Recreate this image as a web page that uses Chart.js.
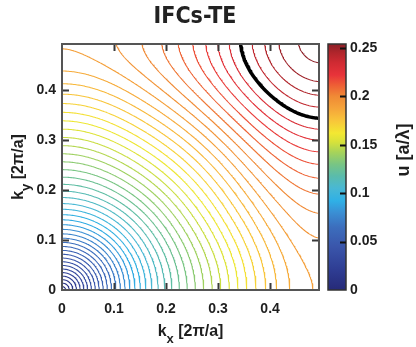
<!DOCTYPE html>
<html>
<head>
<meta charset="utf-8">
<script src="https://cdn.jsdelivr.net/npm/chart.js@4.4.1/dist/chart.umd.min.js"></script>
<style>
  html, body { margin: 0; padding: 0; background: #fff; }
  #wrap { width: 416px; height: 347px; }
</style>
</head>
<body>
<div id="wrap"><canvas id="ifc" width="416" height="347"></canvas></div>
<script>
// k grid nodes (units of 2pi/a), same on both axes
const kNodes = [0, 0.1, 0.2, 0.3, 0.4, 0.5];
// u [a/lambda] at the nodes: one row per ky, columns = kx
const uKy00 = [0.000, 0.068, 0.115, 0.150, 0.175, 0.192];
const uKy01 = [0.068, 0.090, 0.125, 0.158, 0.181, 0.195];
const uKy02 = [0.115, 0.125, 0.147, 0.173, 0.195, 0.207];
const uKy03 = [0.150, 0.158, 0.173, 0.196, 0.215, 0.226];
const uKy04 = [0.175, 0.181, 0.195, 0.215, 0.235, 0.247];
const uKy05 = [0.192, 0.195, 0.207, 0.226, 0.247, 0.258];
const uGrid = [uKy00, uKy01, uKy02, uKy03, uKy04, uKy05];

// iso-frequency levels drawn
const contourLevels = [
  0.005, 0.010, 0.015, 0.020, 0.025, 0.030, 0.035, 0.040, 0.045, 0.050,
  0.055, 0.060, 0.065, 0.070, 0.075, 0.080, 0.085, 0.090, 0.095, 0.100,
  0.105, 0.110, 0.115, 0.120, 0.125, 0.130, 0.135, 0.140, 0.145, 0.150,
  0.155, 0.160, 0.165, 0.170, 0.175, 0.180, 0.185, 0.190, 0.195, 0.200,
  0.205, 0.210, 0.215, 0.220, 0.225, 0.230, 0.235, 0.240, 0.245, 0.250, 0.255
];
const highlightLevel = 0.235;

const xTicks = [0, 0.1, 0.2, 0.3, 0.4];
const xTickLabels = ["0", "0.1", "0.2", "0.3", "0.4"];
const yTicks = [0, 0.1, 0.2, 0.3, 0.4];
const yTickLabels = ["0", "0.1", "0.2", "0.3", "0.4"];
const cbTicks = [0, 0.05, 0.1, 0.15, 0.2, 0.25];
const cbTickLabels = ["0", "0.05", "0.1", "0.15", "0.2", "0.25"];
const xMax = 0.494, yMax = 0.492, cbMax = 0.254;

// colour map (jet-like, as in the colour bar)
const cmap = [
  [0.000, "#262a78"], [0.020, "#2e3c92"], [0.045, "#3a56ab"], [0.065, "#3c6ebd"],
  [0.080, "#3a8fd4"], [0.092, "#2fb0e6"], [0.105, "#49b8d4"], [0.118, "#5bbcaa"],
  [0.130, "#79c583"], [0.142, "#a6d35a"], [0.153, "#d8e23a"], [0.162, "#f3e832"],
  [0.175, "#f8c53a"], [0.188, "#f5a33a"], [0.200, "#f08a35"], [0.212, "#ee5c35"],
  [0.222, "#e8333a"], [0.235, "#cf2a32"], [0.245, "#b0252b"], [0.255, "#8c1f27"]
];

function rgb(hex) {
  return [1, 3, 5].map(i => parseInt(hex.substr(i, 2), 16));
}
function colorAt(u) {
  if (u <= cmap[0][0]) return cmap[0][1];
  for (let i = 1; i < cmap.length; i++) {
    if (u <= cmap[i][0]) {
      const t = (u - cmap[i - 1][0]) / (cmap[i][0] - cmap[i - 1][0]);
      const a = rgb(cmap[i - 1][1]), b = rgb(cmap[i][1]);
      const c = a.map((v, k) => Math.round(v + (b[k] - v) * t));
      return "rgb(" + c.join(",") + ")";
    }
  }
  return cmap[cmap.length - 1][1];
}

// smooth band surface: least-squares cosine series for u^2 through the node table
// (even about zone centre and zone edge); the Gamma point is pinned with a big weight
const MODES = 4;
const basis = (kx, ky) => {
  const out = [];
  for (let n = 0; n < MODES; n++) {
    for (let m = 0; m < MODES; m++) out.push(Math.cos(2 * Math.PI * m * kx) * Math.cos(2 * Math.PI * n * ky));
  }
  return out;
};
function fitBand() {
  const P = MODES * MODES;
  const A = [];
  for (let r = 0; r < P; r++) A.push(new Array(P + 1).fill(0));
  uGrid.forEach((row, j) => row.forEach((u, i) => {
    const w = (i === 0 && j === 0) ? 200 : (i + j === 1 ? 4 : 1);
    const phi = basis(kNodes[i], kNodes[j]);
    for (let r = 0; r < P; r++) {
      for (let c = 0; c < P; c++) A[r][c] += w * phi[r] * phi[c];
      A[r][P] += w * phi[r] * u * u;
    }
  }));
  for (let c = 0; c < P; c++) {
    let piv = c;
    for (let r = c + 1; r < P; r++) if (Math.abs(A[r][c]) > Math.abs(A[piv][c])) piv = r;
    [A[c], A[piv]] = [A[piv], A[c]];
    for (let r = 0; r < P; r++) {
      if (r === c) continue;
      const f = A[r][c] / A[c][c];
      for (let k = c; k <= P; k++) A[r][k] -= f * A[c][k];
    }
  }
  return A.map((row, r) => row[P] / row[r]);
}
const coef = fitBand();
function field(kx, ky) {
  const phi = basis(kx, ky);
  let s = 0;
  for (let r = 0; r < phi.length; r++) s += coef[r] * phi[r];
  return Math.sqrt(Math.max(s, 0));
}

// marching squares + chaining into polylines
const N = 200, H = kNodes[kNodes.length - 1] / N;
const F = [];
for (let j = 0; j <= N; j++) {
  const row = [];
  for (let i = 0; i <= N; i++) row.push(field(i * H, j * H));
  F.push(row);
}

function contourLines(level) {
  const segs = [];
  for (let j = 0; j < N; j++) {
    for (let i = 0; i < N; i++) {
      const a = F[j][i], b = F[j][i + 1], c = F[j + 1][i + 1], d = F[j + 1][i];
      const x0 = i * H, y0 = j * H, e = [];
      if ((a > level) !== (b > level)) e.push({key: "h" + i + "_" + j, x: x0 + H * (level - a) / (b - a), y: y0});
      if ((b > level) !== (c > level)) e.push({key: "v" + (i + 1) + "_" + j, x: x0 + H, y: y0 + H * (level - b) / (c - b)});
      if ((d > level) !== (c > level)) e.push({key: "h" + i + "_" + (j + 1), x: x0 + H * (level - d) / (c - d), y: y0 + H});
      if ((a > level) !== (d > level)) e.push({key: "v" + i + "_" + j, x: x0, y: y0 + H * (level - a) / (d - a)});
      if (e.length === 2) segs.push([e[0], e[1]]);
      else if (e.length === 4) {
        segs.push([e[0], e[3]]);
        segs.push([e[1], e[2]]);
      }
    }
  }
  const byKey = new Map();
  segs.forEach((s, idx) => s.forEach(p => {
    if (!byKey.has(p.key)) byKey.set(p.key, []);
    byKey.get(p.key).push(idx);
  }));
  const used = segs.map(() => false);
  const extend = line => {
    for (;;) {
      const end = line[line.length - 1];
      const next = (byKey.get(end.key) || []).find(k => !used[k]);
      if (next === undefined) break;
      used[next] = true;
      const s = segs[next];
      line.push(s[0].key === end.key ? s[1] : s[0]);
    }
  };
  const lines = [];
  for (let s0 = 0; s0 < segs.length; s0++) {
    if (used[s0]) continue;
    used[s0] = true;
    const line = [segs[s0][0], segs[s0][1]];
    extend(line);
    line.reverse();
    extend(line);
    lines.push(line.map(p => ({x: p.x, y: p.y})));
  }
  return lines;
}

const lineStyle = {pointRadius: 0, showLine: true, fill: false, tension: 0,
  borderJoinStyle: "round", borderCapStyle: "round"};
const datasets = [];
contourLevels.forEach(level => {
  if (level === highlightLevel) return;
  contourLines(level).forEach(line => {
    datasets.push(Object.assign({data: line, borderColor: colorAt(level), borderWidth: 1.05}, lineStyle));
  });
});
contourLines(highlightLevel).forEach(line => {
  datasets.push(Object.assign({data: line, borderColor: "#000", borderWidth: 3.5}, lineStyle));
});

// frame, inward ticks, colour bar and axis titles
const decor = {
  id: "decor",
  afterDatasetsDraw(chart) {
    const ctx = chart.ctx;
    const a = chart.chartArea;
    const sx = chart.scales.x, sy = chart.scales.y, sc = chart.scales.cb;
    const tick = 7;
    ctx.save();
    ctx.strokeStyle = "#3a3a3a";
    ctx.lineWidth = 2;
    ctx.beginPath();
    xTicks.slice(1).forEach(v => {
      const px = Math.round(sx.getPixelForValue(v)) + 0.5;
      ctx.moveTo(px, a.bottom); ctx.lineTo(px, a.bottom - tick);
      ctx.moveTo(px, a.top); ctx.lineTo(px, a.top + tick);
    });
    yTicks.slice(1).forEach(v => {
      const py = Math.round(sy.getPixelForValue(v)) + 0.5;
      ctx.moveTo(a.left, py); ctx.lineTo(a.left + tick, py);
      ctx.moveTo(a.right, py); ctx.lineTo(a.right - tick, py);
    });
    ctx.stroke();
    ctx.strokeStyle = "#555";
    ctx.strokeRect(a.left, a.top, a.right - a.left, a.bottom - a.top);

    // colour bar
    const cbL = a.right + 9, cbR = a.right + 27;
    const y0 = sc.getPixelForValue(0), y1 = sc.getPixelForValue(cbMax);
    const g = ctx.createLinearGradient(0, y0, 0, y1);
    cmap.forEach(s => g.addColorStop(Math.min(s[0] / cbMax, 1), s[1]));
    ctx.fillStyle = g;
    ctx.fillRect(cbL, y1, cbR - cbL, y0 - y1);
    ctx.strokeStyle = "#333";
    ctx.lineWidth = 1.5;
    ctx.strokeRect(cbL, y1, cbR - cbL, y0 - y1);
    ctx.strokeStyle = "#111";
    ctx.lineWidth = 2;
    ctx.beginPath();
    cbTicks.slice(1).forEach(v => {
      const py = Math.round(sc.getPixelForValue(v)) + 0.5;
      ctx.moveTo(cbR, py); ctx.lineTo(cbR - 6, py);
    });
    ctx.stroke();

    // axis titles
    ctx.fillStyle = "#1e1e1e";
    const kLabel = (cx, cy, sub, rot) => {
      ctx.save();
      ctx.translate(cx, cy);
      ctx.rotate(rot);
      const big = "bold 16px 'Liberation Sans', Arial, sans-serif";
      const small = "bold 13px 'Liberation Sans', Arial, sans-serif";
      ctx.font = big;
      const wk = ctx.measureText("k").width;
      const rest = " [2\u03c0/a]";
      const wr = ctx.measureText(rest).width;
      ctx.font = small;
      const ws = ctx.measureText(sub).width;
      const w = wk + ws + wr;
      ctx.textBaseline = "alphabetic";
      ctx.textAlign = "left";
      let x = -w / 2;
      ctx.font = big;
      ctx.fillText("k", x, 5);
      x += wk;
      ctx.font = small;
      ctx.fillText(sub, x, 12);
      x += ws;
      ctx.font = big;
      ctx.fillText(rest, x, 5);
      ctx.restore();
    };
    kLabel((a.left + a.right) / 2, 331, "x", 0);
    kLabel(18, (a.top + a.bottom) / 2, "y", -Math.PI / 2);

    ctx.save();
    ctx.translate(404, 150);
    ctx.rotate(-Math.PI / 2);
    ctx.font = "bold 18px 'Liberation Sans', Arial, sans-serif";
    ctx.textAlign = "center";
    ctx.textBaseline = "middle";
    ctx.fillText("u [a/\u03bb]", 0, 0);
    ctx.restore();
    ctx.restore();
  }
};

Chart.defaults.font.family = "'Liberation Sans', Arial, sans-serif";
Chart.defaults.color = "#1e1e1e";

const tickFont = {size: 14, weight: "bold"};
new Chart(document.getElementById("ifc").getContext("2d"), {
  type: "scatter",
  data: {datasets: datasets},
  options: {
    responsive: false,
    animation: false,
    events: [],
    parsing: false,
    layout: {padding: {left: 0, right: 26, top: 0, bottom: 0}},
    plugins: {
      legend: {display: false},
      tooltip: {enabled: false},
      title: {
        display: true,
        text: "IFCs-TE",
        color: "#222",
        font: {size: 23, weight: "bold", family: "'Liberation Sans Narrow', 'DejaVu Sans Condensed', sans-serif"},
        padding: {top: 3, bottom: 13.4}
      }
    },
    scales: {
      x: {
        type: "linear",
        position: "bottom",
        min: 0,
        max: xMax,
        grid: {display: false, drawTicks: false},
        border: {display: false},
        afterBuildTicks: s => { s.ticks = xTicks.map(v => ({value: v})); },
        ticks: {
          font: tickFont,
          padding: 11,
          maxRotation: 0,
          callback: v => xTickLabels[xTicks.indexOf(v)]
        },
        afterFit: s => { s.height = 57; }
      },
      y: {
        type: "linear",
        position: "left",
        min: 0,
        max: yMax,
        grid: {display: false, drawTicks: false},
        border: {display: false},
        afterBuildTicks: s => { s.ticks = yTicks.map(v => ({value: v})); },
        ticks: {
          font: tickFont,
          padding: 6,
          callback: v => yTickLabels[yTicks.indexOf(v)]
        },
        afterFit: s => { s.width = 62; }
      },
      cb: {
        type: "linear",
        position: "right",
        min: 0,
        max: cbMax,
        grid: {display: false, drawTicks: false},
        border: {display: false},
        afterBuildTicks: s => { s.ticks = cbTicks.map(v => ({value: v})); },
        ticks: {
          font: tickFont,
          padding: 31,
          callback: v => cbTickLabels[cbTicks.indexOf(v)]
        },
        afterFit: s => { s.width = 71; }
      }
    }
  },
  plugins: [decor]
});
</script>
</body>
</html>
